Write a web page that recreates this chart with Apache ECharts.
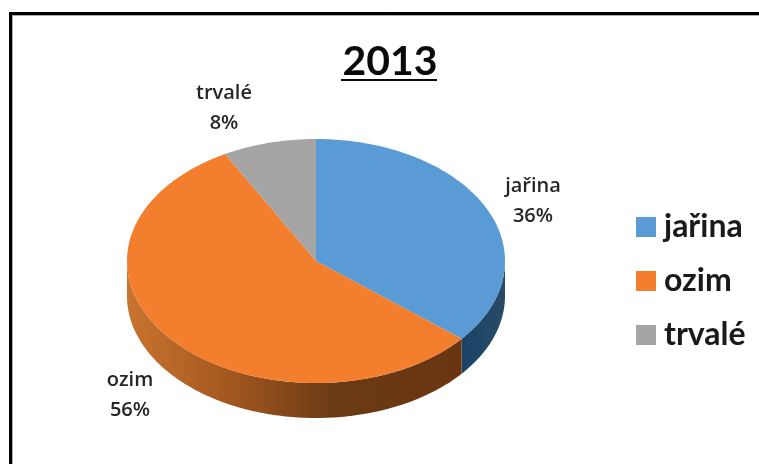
<!DOCTYPE html>
<html>
<head>
<meta charset="utf-8">
<style>html,body{margin:0;padding:0;background:#fff}#chart{width:759px;height:464px}</style>
<script src="https://cdn.jsdelivr.net/npm/echarts@6/dist/echarts.min.js"></script>
</head>
<body>
<div id="chart"></div>
<script>
// Crop shares for 2013, in percent
const categories = ['jařina', 'ozim', 'trvalé'];
const shares = [36, 56, 8];
const chartTitle = '2013';
const colors = ['#5B9BD5', '#F27E2E', '#A5A5A5'];

// Tilted-disc geometry of the pie
const disc = { cx: 316, cy: 261, rx: 189, ry: 122, depth: 35 };
// Where each slice label sits relative to the disc centre
const labelOffset = [[217, -60], [-186, 134], [-92, -153]];
// Wall shading per slice: left-to-right colour stops
const wallStops = [
  [[0, '#1A4468'], [1, '#2A4A66']],
  [[0, '#C9742F'], [0.3, '#A4581F'], [0.62, '#6A3A15'], [1, '#6B3511']],
  [[0, '#666666'], [1, '#666666']]
];

const total = shares.reduce((a, b) => a + b, 0);
const rimPoint = (deg, dy) => {
  const a = deg * Math.PI / 180;
  return [disc.cx + disc.rx * Math.sin(a), disc.cy - disc.ry * Math.cos(a) + (dy || 0)];
};
const arc = (from, to, dy) => {
  const pts = [];
  const n = Math.max(2, Math.ceil(Math.abs(to - from)));
  for (let i = 0; i <= n; i++) pts.push(rimPoint(from + (to - from) * i / n, dy));
  return pts;
};

function sliceRenderer(index) {
  return function () {
    const before = shares.slice(0, index).reduce((a, b) => a + b, 0);
    const start = before / total * 360;
    const end = (before + shares[index]) / total * 360;
    const children = [];

    // Only the part of the rim between 90° and 270° faces the viewer
    const wallFrom = Math.max(start, 90);
    const wallTo = Math.min(end, 270);
    if (wallTo > wallFrom) {
      const top = arc(wallFrom, wallTo, 0);
      const bottom = arc(wallFrom, wallTo, disc.depth).reverse();
      children.push({
        type: 'polygon',
        shape: { points: top.concat(bottom) },
        style: {
          fill: new echarts.graphic.LinearGradient(0, 0, 1, 0,
            wallStops[index].map(s => ({ offset: s[0], color: s[1] })))
        }
      });
    }

    children.push({
      type: 'polygon',
      shape: { points: [[disc.cx, disc.cy]].concat(arc(start, end, 0)) },
      style: { fill: colors[index] }
    });

    children.push({
      type: 'text',
      x: disc.cx + labelOffset[index][0],
      y: disc.cy + labelOffset[index][1],
      style: {
        text: categories[index] + '\n' + shares[index] + '%',
        fontFamily: 'Open Sans',
        fontWeight: 600,
        fontSize: 20,
        lineHeight: 30,
        fill: '#262626',
        align: 'center',
        verticalAlign: 'middle'
      }
    });
    return { type: 'group', children };
  };
}

const chart = echarts.init(document.getElementById('chart'), null, { renderer: 'canvas' });
chart.setOption({
  animation: false,
  backgroundColor: '#fff',
  title: {
    text: chartTitle,
    left: 385,
    top: 36,
    textAlign: 'center',
    textStyle: { fontFamily: 'Lato', fontWeight: 'bold', fontSize: 41, color: '#0a0a0a' }
  },
  legend: {
    orient: 'vertical',
    left: 631,
    top: 206,
    icon: 'rect',
    itemWidth: 20,
    itemHeight: 20,
    itemGap: 22,
    selectedMode: false,
    data: categories,
    textStyle: { fontFamily: 'Lato', fontWeight: 'bold', fontSize: 32, color: '#1a1a1a', padding: [0, 0, 0, 3] }
  },
  graphic: [
    { type: 'rect', shape: { x: 10.5, y: 13.5, width: 800, height: 500 }, style: { fill: 'none', stroke: '#000', lineWidth: 3 }, silent: true },
    { type: 'rect', shape: { x: 12.5, y: 15.5, width: 800, height: 500 }, style: { fill: 'none', stroke: '#aaa', lineWidth: 1 }, silent: true },
    { type: 'line', shape: { x1: 341, y1: 80, x2: 437, y2: 80 }, style: { stroke: '#0a0a0a', lineWidth: 2 }, silent: true }
  ],
  series: categories.map((name, i) => ({
    type: 'custom',
    name,
    coordinateSystem: 'none',
    itemStyle: { color: colors[i] },
    data: [shares[i]],
    renderItem: sliceRenderer(i)
  }))
});
</script>
</body>
</html>
